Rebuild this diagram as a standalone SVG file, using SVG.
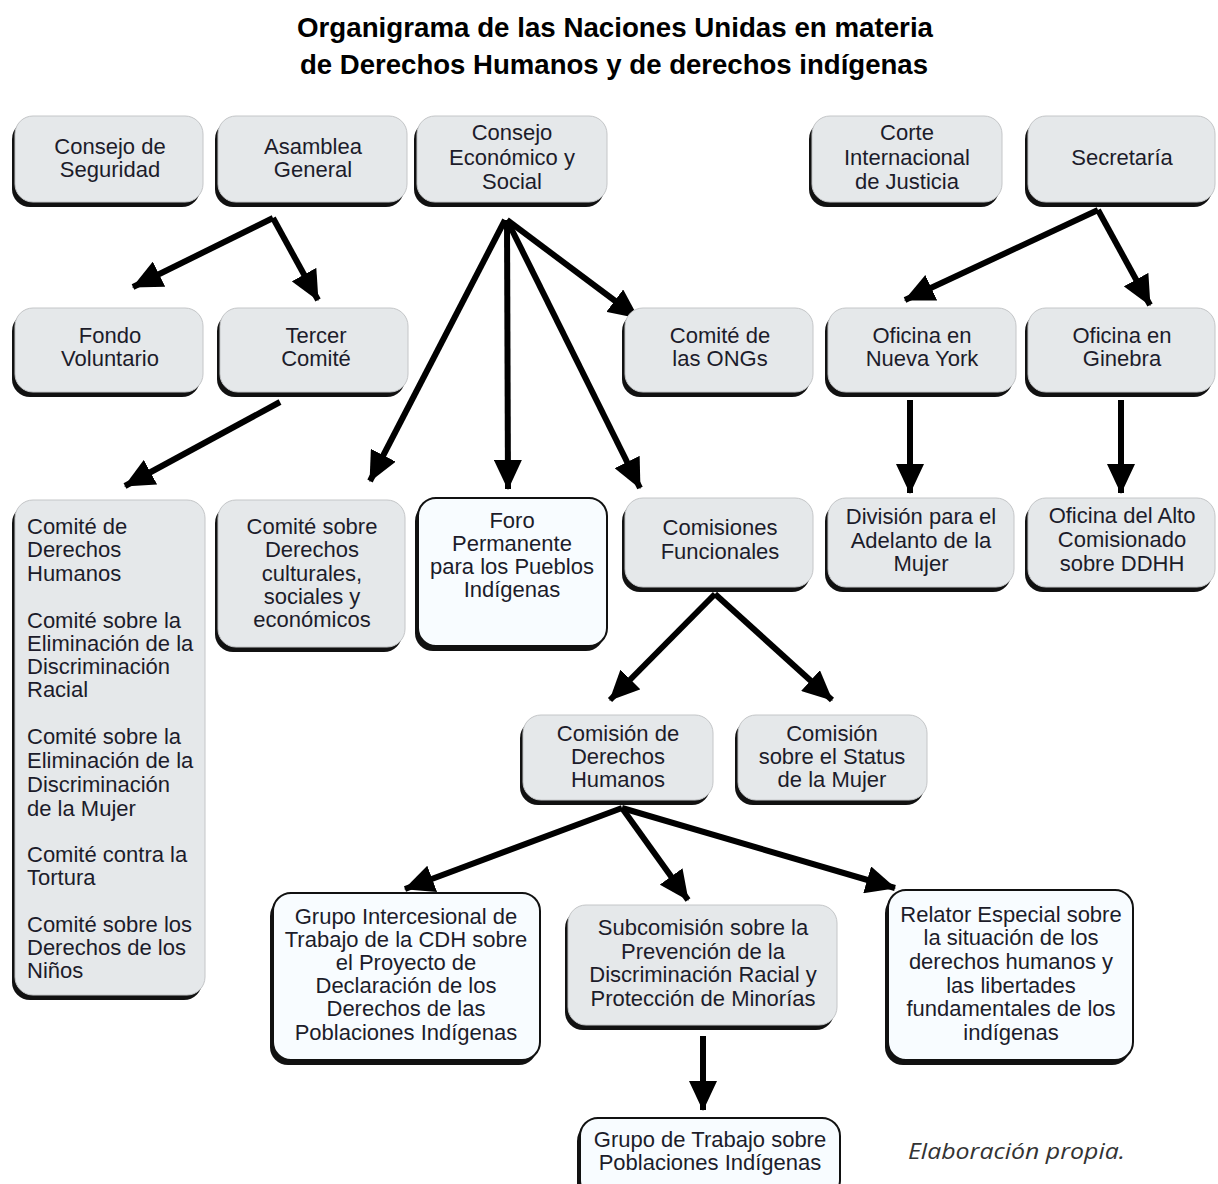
<svg xmlns="http://www.w3.org/2000/svg" width="1218" height="1184" viewBox="0 0 1218 1184">
<defs>
<style>
.sh{fill:#111}
.g{fill:#e5e8ea;stroke:#c4c6c8;stroke-width:1}
.w{fill:#f8fcff;stroke:#111;stroke-width:2}
.t{font-family:"Liberation Sans",Arial,sans-serif;font-size:22px;fill:#1c1c2a;text-anchor:middle}
.tl{font-family:"Liberation Sans",Arial,sans-serif;font-size:22px;fill:#1c1c2a;text-anchor:start}
.title{font-family:"Liberation Sans",Arial,sans-serif;font-weight:bold;font-size:28px;fill:#000;text-anchor:middle}
.c line{stroke:#000;stroke-width:6;marker-end:url(#ah)}
</style>
<marker id="ah" markerUnits="userSpaceOnUse" viewBox="0 0 30 28" markerWidth="30" markerHeight="28" refX="29" refY="14" orient="auto">
<path d="M0,0 L30,14 L0,28 z" fill="#000"/>
</marker>
</defs>
<rect width="1218" height="1184" fill="#fff"/>
<g id="title">
<text class="title" x="615" y="37" textLength="636" lengthAdjust="spacingAndGlyphs">Organigrama de las Naciones Unidas en materia</text>
<text class="title" x="614" y="74" textLength="628" lengthAdjust="spacingAndGlyphs">de Derechos Humanos y de derechos indígenas</text>
</g>
<g id="connectors" class="c">
<line x1="273" y1="218" x2="133" y2="287"/>
<line x1="273" y1="218" x2="318" y2="300"/>
<line x1="280" y1="402" x2="125" y2="486"/>
<line x1="505" y1="220" x2="370" y2="481"/>
<line x1="507" y1="220" x2="508" y2="489"/>
<line x1="507" y1="220" x2="640" y2="488"/>
<line x1="507" y1="220" x2="638" y2="318"/>
<line x1="1098" y1="210" x2="905" y2="300"/>
<line x1="1098" y1="210" x2="1150" y2="305"/>
<line x1="910" y1="400" x2="910" y2="493"/>
<line x1="1121" y1="400" x2="1121" y2="493"/>
<line x1="715" y1="594" x2="610" y2="700"/>
<line x1="715" y1="594" x2="832" y2="700"/>
<line x1="622" y1="808" x2="405" y2="889"/>
<line x1="622" y1="808" x2="688" y2="900"/>
<line x1="622" y1="808" x2="895" y2="888"/>
<line x1="703" y1="1036" x2="703" y2="1110"/>
</g>
<g id="n-seguridad">
<rect class="sh" x="12" y="121" width="188" height="86" rx="18"/>
<rect class="g" x="15" y="116" width="188" height="86" rx="18"/>
<text class="t" x="110" y="154">Consejo de</text>
<text class="t" x="110" y="177">Seguridad</text>
</g>
<g id="n-asamblea">
<rect class="sh" x="215" y="121" width="189" height="86" rx="18"/>
<rect class="g" x="218" y="116" width="189" height="86" rx="18"/>
<text class="t" x="313" y="154">Asamblea</text>
<text class="t" x="313" y="177">General</text>
</g>
<g id="n-ecosoc">
<rect class="sh" x="414" y="121" width="190" height="86" rx="18"/>
<rect class="g" x="417" y="116" width="190" height="86" rx="18"/>
<text class="t" x="512" y="140">Consejo</text>
<text class="t" x="512" y="165">Económico y</text>
<text class="t" x="512" y="189">Social</text>
</g>
<g id="n-corte">
<rect class="sh" x="809" y="121" width="190" height="86" rx="18"/>
<rect class="g" x="812" y="116" width="190" height="86" rx="18"/>
<text class="t" x="907" y="140">Corte</text>
<text class="t" x="907" y="165">Internacional</text>
<text class="t" x="907" y="189">de Justicia</text>
</g>
<g id="n-secretaria">
<rect class="sh" x="1025" y="121" width="187" height="86" rx="18"/>
<rect class="g" x="1028" y="116" width="187" height="86" rx="18"/>
<text class="t" x="1122" y="165">Secretaría</text>
</g>
<g id="n-fondo">
<rect class="sh" x="12" y="313" width="188" height="84" rx="18"/>
<rect class="g" x="15" y="308" width="188" height="84" rx="18"/>
<text class="t" x="110" y="343">Fondo</text>
<text class="t" x="110" y="366">Voluntario</text>
</g>
<g id="n-tercer">
<rect class="sh" x="217" y="313" width="188" height="84" rx="18"/>
<rect class="g" x="220" y="308" width="188" height="84" rx="18"/>
<text class="t" x="316" y="343">Tercer</text>
<text class="t" x="316" y="366">Comité</text>
</g>
<g id="n-ongs">
<rect class="sh" x="622" y="313" width="188" height="84" rx="18"/>
<rect class="g" x="625" y="308" width="188" height="84" rx="18"/>
<text class="t" x="720" y="343">Comité de</text>
<text class="t" x="720" y="366">las ONGs</text>
</g>
<g id="n-ofny">
<rect class="sh" x="825" y="313" width="188" height="84" rx="18"/>
<rect class="g" x="828" y="308" width="188" height="84" rx="18"/>
<text class="t" x="922" y="343">Oficina en</text>
<text class="t" x="922" y="366">Nueva York</text>
</g>
<g id="n-ofginebra">
<rect class="sh" x="1025" y="313" width="187" height="84" rx="18"/>
<rect class="g" x="1028" y="308" width="187" height="84" rx="18"/>
<text class="t" x="1122" y="343">Oficina en</text>
<text class="t" x="1122" y="366">Ginebra</text>
</g>
<g id="n-comites">
<rect class="sh" x="12" y="505" width="190" height="495" rx="18"/>
<rect class="g" x="15" y="500" width="190" height="495" rx="18"/>
<text class="tl" x="27" y="534">Comité de</text>
<text class="tl" x="27" y="557">Derechos</text>
<text class="tl" x="27" y="581">Humanos</text>
<text class="tl" x="27" y="628">Comité sobre la</text>
<text class="tl" x="27" y="651">Eliminación de la</text>
<text class="tl" x="27" y="674">Discriminación</text>
<text class="tl" x="27" y="697">Racial</text>
<text class="tl" x="27" y="744">Comité sobre la</text>
<text class="tl" x="27" y="768">Eliminación de la</text>
<text class="tl" x="27" y="792">Discriminación</text>
<text class="tl" x="27" y="816">de la Mujer</text>
<text class="tl" x="27" y="862">Comité contra la</text>
<text class="tl" x="27" y="885">Tortura</text>
<text class="tl" x="27" y="932">Comité sobre los</text>
<text class="tl" x="27" y="955">Derechos de los</text>
<text class="tl" x="27" y="978">Niños</text>
</g>
<g id="n-culturales">
<rect class="sh" x="215" y="505" width="187" height="147" rx="18"/>
<rect class="g" x="218" y="500" width="187" height="147" rx="18"/>
<text class="t" x="312" y="534">Comité sobre</text>
<text class="t" x="312" y="557">Derechos</text>
<text class="t" x="312" y="581">culturales,</text>
<text class="t" x="312" y="604">sociales y</text>
<text class="t" x="312" y="627">económicos</text>
</g>
<g id="n-foro">
<rect class="sh" x="415" y="503" width="189" height="148" rx="18"/>
<rect class="w" x="418" y="498" width="189" height="148" rx="18"/>
<text class="t" x="512" y="528">Foro</text>
<text class="t" x="512" y="551">Permanente</text>
<text class="t" x="512" y="574">para los Pueblos</text>
<text class="t" x="512" y="597">Indígenas</text>
</g>
<g id="n-comisiones">
<rect class="sh" x="622" y="503" width="188" height="89" rx="18"/>
<rect class="g" x="625" y="498" width="188" height="89" rx="18"/>
<text class="t" x="720" y="535">Comisiones</text>
<text class="t" x="720" y="559">Funcionales</text>
</g>
<g id="n-division">
<rect class="sh" x="825" y="503" width="186" height="89" rx="18"/>
<rect class="g" x="828" y="498" width="186" height="89" rx="18"/>
<text class="t" x="921" y="524">División para el</text>
<text class="t" x="921" y="548">Adelanto de la</text>
<text class="t" x="921" y="571">Mujer</text>
</g>
<g id="n-altocom">
<rect class="sh" x="1025" y="503" width="187" height="89" rx="18"/>
<rect class="g" x="1028" y="498" width="187" height="89" rx="18"/>
<text class="t" x="1122" y="523">Oficina del Alto</text>
<text class="t" x="1122" y="547">Comisionado</text>
<text class="t" x="1122" y="571">sobre DDHH</text>
</g>
<g id="n-comdh">
<rect class="sh" x="520" y="720" width="190" height="85" rx="18"/>
<rect class="g" x="523" y="715" width="190" height="85" rx="18"/>
<text class="t" x="618" y="741">Comisión de</text>
<text class="t" x="618" y="764">Derechos</text>
<text class="t" x="618" y="787">Humanos</text>
</g>
<g id="n-status">
<rect class="sh" x="735" y="720" width="189" height="85" rx="18"/>
<rect class="g" x="738" y="715" width="189" height="85" rx="18"/>
<text class="t" x="832" y="741">Comisión</text>
<text class="t" x="832" y="764">sobre el Status</text>
<text class="t" x="832" y="787">de la Mujer</text>
</g>
<g id="n-grupointer">
<rect class="sh" x="270" y="898" width="267" height="167" rx="18"/>
<rect class="w" x="273" y="893" width="267" height="167" rx="18"/>
<text class="t" x="406" y="924">Grupo Intercesional de</text>
<text class="t" x="406" y="947">Trabajo de la CDH sobre</text>
<text class="t" x="406" y="970">el Proyecto de</text>
<text class="t" x="406" y="993">Declaración de los</text>
<text class="t" x="406" y="1016">Derechos de las</text>
<text class="t" x="406" y="1040">Poblaciones Indígenas</text>
</g>
<g id="n-subcom">
<rect class="sh" x="565" y="910" width="269" height="120" rx="18"/>
<rect class="g" x="568" y="905" width="269" height="120" rx="18"/>
<text class="t" x="703" y="935">Subcomisión sobre la</text>
<text class="t" x="703" y="959">Prevención de la</text>
<text class="t" x="703" y="982">Discriminación Racial y</text>
<text class="t" x="703" y="1006">Protección de Minorías</text>
</g>
<g id="n-relator">
<rect class="sh" x="885" y="895" width="245" height="170" rx="18"/>
<rect class="w" x="888" y="890" width="245" height="170" rx="18"/>
<text class="t" x="1011" y="922">Relator Especial sobre</text>
<text class="t" x="1011" y="945">la situación de los</text>
<text class="t" x="1011" y="969">derechos humanos y</text>
<text class="t" x="1011" y="993">las libertades</text>
<text class="t" x="1011" y="1016">fundamentales de los</text>
<text class="t" x="1011" y="1040">indígenas</text>
</g>
<g id="n-grupotrabajo">
<rect class="sh" x="577" y="1123" width="260" height="80" rx="18"/>
<rect class="w" x="580" y="1118" width="260" height="80" rx="18"/>
<text class="t" x="710" y="1147">Grupo de Trabajo sobre</text>
<text class="t" x="710" y="1170">Poblaciones Indígenas</text>
</g>
<text x="908" y="1159" font-family="'Open Sans','Liberation Sans',sans-serif" font-style="italic" font-size="21" fill="#333" textLength="217" lengthAdjust="spacingAndGlyphs">Elaboración propia.</text>
</svg>
